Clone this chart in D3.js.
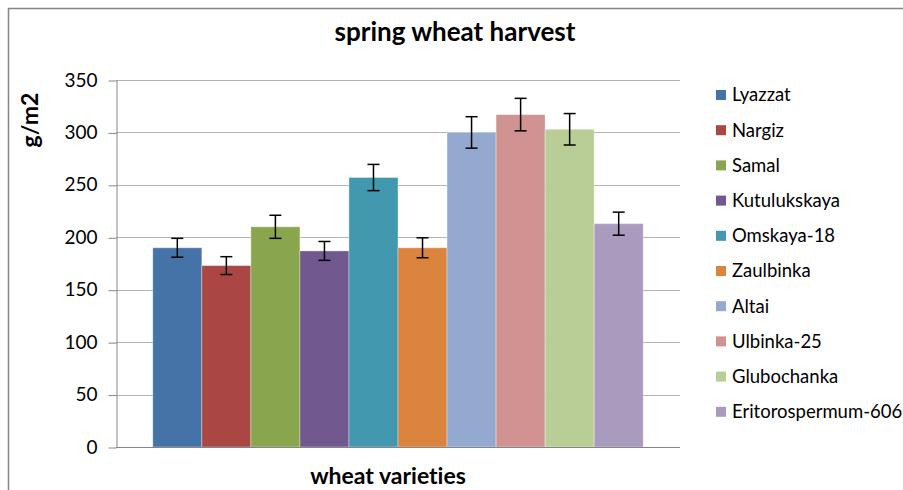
<!DOCTYPE html>
<html>
<head>
<meta charset="utf-8">
<script src="https://cdn.jsdelivr.net/npm/d3@7"></script>
<style>
  body { margin: 0; background: #fff; }
  svg text { font-family: Lato, "Open Sans", sans-serif; fill: #000; font-variant-ligatures: none; }
</style>
</head>
<body>
<svg id="chart" width="903" height="490"></svg>
<script>

// data
const varieties = ['Lyazzat','Nargiz','Samal','Kutulukskaya','Omskaya-18','Zaulbinka','Altai','Ulbinka-25','Glubochanka','Eritorospermum-606'];
const harvest = [190, 173, 210, 187, 257, 190, 300, 317, 303, 213];
const errs = [9, 8.5, 11, 9, 12.5, 9.5, 15, 15.5, 15, 11];
const colors = ['#4572A7','#AA4643','#89A54E','#71588F','#4198AF','#DB843D','#93A9CF','#D19392','#B9CD96','#A99BBD'];
const y_ticks = [0, 50, 100, 150, 200, 250, 300, 350];

const svg = d3.select('#chart');

const plot = {left: 116, right: 680, top: 80, bottom: 447};

// chart frame
svg.append('rect')
    .attr('x', 8.5).attr('y', 8.5)
    .attr('width', 1000).attr('height', 1000)
    .attr('fill', 'none')
    .attr('stroke', '#868686')
    .attr('stroke-width', 1.5);

const y = d3.scaleLinear().domain([0, 350]).range([plot.bottom, plot.top]);

// one category, bars side by side
const x0 = d3.scaleBand().domain(['all']).range([plot.left, plot.right]).paddingInner(0).paddingOuter(0.075);
const x1 = d3.scaleBand().domain(varieties).range([0, x0.bandwidth()]).padding(0);

// gridlines
svg.append('g').selectAll('line')
    .data(y_ticks.filter(d => d > 0))
    .enter()
  .append('line')
    .attr('x1', plot.left).attr('x2', plot.right)
    .attr('y1', d => Math.round(y(d)) + 0.5)
    .attr('y2', d => Math.round(y(d)) + 0.5)
    .attr('stroke', '#b3b3b3')
    .attr('stroke-width', 1);

// y axis
const yAxis = svg.append('g')
    .attr('transform', `translate(${plot.left + 0.5},0)`)
    .call(d3.axisLeft(y).tickValues(y_ticks).tickSize(8).tickPadding(11).tickSizeOuter(0));
yAxis.select('.domain').attr('stroke', '#868686');
yAxis.selectAll('.tick line').attr('stroke', '#868686')
    .attr('transform', 'translate(0,0.5)');
yAxis.selectAll('.tick text')
    .style('font-size', '19px')
    .style('font-family', 'Lato, "Open Sans", sans-serif')
    .attr('fill', '#000');

// bars
const bars = svg.append('g').attr('transform', `translate(${x0('all')},0)`);
bars.selectAll('rect')
    .data(harvest)
    .enter()
  .append('rect')
    .attr('x', (d,i) => x1(varieties[i]))
    .attr('y', d => y(d))
    .attr('width', x1.bandwidth())
    .attr('height', d => y(0) - y(d))
    .attr('fill', (d,i) => colors[i])
    .attr('stroke', 'rgba(255,255,255,0.35)')
    .attr('stroke-width', 1);

// x axis baseline
svg.append('line')
    .attr('x1', plot.left).attr('x2', plot.right)
    .attr('y1', Math.round(y(0)) + 0.5).attr('y2', Math.round(y(0)) + 0.5)
    .attr('stroke', '#868686');

// error bars
const eb = bars.selectAll('.errbar')
    .data(harvest)
    .enter()
  .append('g')
    .attr('class', 'errbar')
    .attr('transform', (d,i) => `translate(${x1(varieties[i]) + x1.bandwidth()/2},0)`)
    .attr('stroke', '#000')
    .attr('stroke-width', 1.5);
eb.append('line')
    .attr('y1', (d,i) => y(d + errs[i]))
    .attr('y2', (d,i) => y(d - errs[i]));
eb.append('line')
    .attr('x1', -6).attr('x2', 6)
    .attr('y1', (d,i) => y(d + errs[i]))
    .attr('y2', (d,i) => y(d + errs[i]));
eb.append('line')
    .attr('x1', -6).attr('x2', 6)
    .attr('y1', (d,i) => y(d - errs[i]))
    .attr('y2', (d,i) => y(d - errs[i]));

// titles
svg.append('text')
    .attr('x', 455).attr('y', 41)
    .attr('text-anchor', 'middle')
    .style('font-size', '26px').style('font-weight', 'bold')
    .text('spring wheat harvest');

svg.append('text')
    .attr('transform', 'translate(38,120) rotate(-90)')
    .attr('text-anchor', 'middle')
    .style('font-size', '23px').style('font-weight', 'bold')
    .text('g/m2');

svg.append('text')
    .attr('x', 388).attr('y', 484)
    .attr('text-anchor', 'middle')
    .style('font-size', '23px').style('font-weight', 'bold')
    .text('wheat varieties');

// legend
const legend = svg.append('g').attr('transform', 'translate(716,95)');
const items = legend.selectAll('g')
    .data(varieties)
    .enter()
  .append('g')
    .attr('transform', (d,i) => `translate(0,${i*35.2})`);
items.append('rect')
    .attr('x', 0).attr('y', -5)
    .attr('width', 10).attr('height', 10)
    .attr('fill', (d,i) => colors[i]);
items.append('text')
    .attr('x', 16).attr('y', 0)
    .attr('dy', '0.35em')
    .style('font-size', '18.5px')
    .text(d => d);

</script>
</body>
</html>
